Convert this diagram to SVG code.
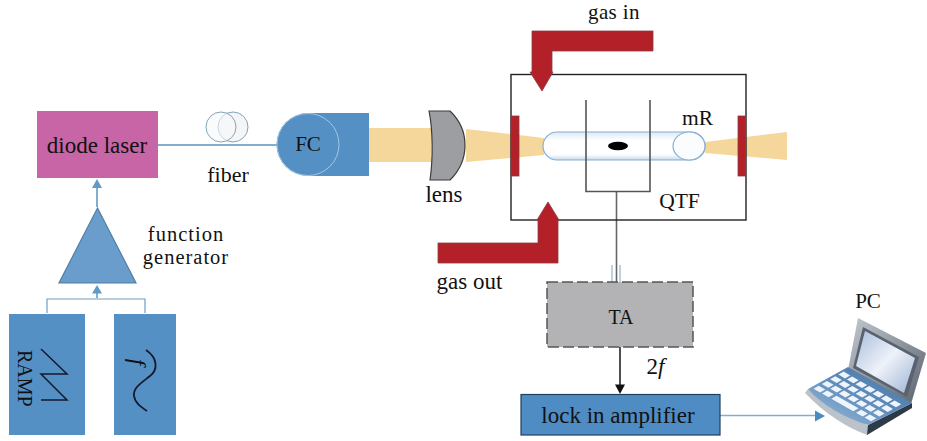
<svg xmlns="http://www.w3.org/2000/svg" width="927" height="441" viewBox="0 0 927 441">
<style>
text{font-family:"Liberation Serif","DejaVu Serif",serif;fill:#111;font-size:23px;text-anchor:middle}
.cap{font-size:21px}
.fg{font-size:20.500px;letter-spacing:1px}
.blue{fill:#5590c5}
.red{fill:#b32028;stroke:#8d3a42;stroke-width:.8}
.beam{fill:#f5d79b}
.conn{fill:none;stroke:#82afd0;stroke-width:2}
.thin{fill:none;stroke:#6e9dc0;stroke-width:1.2}
.blk{fill:none;stroke:#222;stroke-width:1.4}
.gry{fill:none;stroke:#555;stroke-width:1.6}
.key{fill:#eef4fb}
</style>
<defs>
<linearGradient id="scr" x1="0" y1="0" x2="1" y2="1"><stop offset="0" stop-color="#a9bedc"/><stop offset=".5" stop-color="#eef2f9"/><stop offset="1" stop-color="#9db3d4"/></linearGradient>
<linearGradient id="tube" x1="0" y1="0" x2="0" y2="1"><stop offset="0" stop-color="#dce9f5"/><stop offset=".3" stop-color="#fff"/><stop offset=".8" stop-color="#fff"/><stop offset="1" stop-color="#c4daee"/></linearGradient>
<linearGradient id="deck" x1="0" y1="1" x2="1" y2="0"><stop offset="0" stop-color="#a3c2e0"/><stop offset=".5" stop-color="#5f8cba"/><stop offset="1" stop-color="#46709e"/></linearGradient>
<linearGradient id="lid" x1="0" y1="0" x2="1" y2="1"><stop offset="0" stop-color="#c3c8ce"/><stop offset="1" stop-color="#59626e"/></linearGradient>
<path id="k" d="M.7 3.400L5.900 .4L-.7 -3.400L-5.900 -.4z"/>
</defs>
<g id="connectors">
<path class="conn" d="M158 145H277"/>
<path class="conn" d="M97 207V186"/>
<path d="M97 179l-5 9h10z" fill="#5f9ac8"/>
<path class="thin" d="M47 313V299H145V313"/>
<path class="conn" d="M97 298V290"/>
<path d="M97 285l-5 8.500h10z" fill="#5f9ac8"/>
<path d="M612 265V282M620 265V282" fill="none" stroke="#8fb4cf" stroke-width="1.200"/>
<path d="M616.500 191V282" fill="none" stroke="#666" stroke-width="1.600"/>
<path d="M620 347V386" fill="none" stroke="#222" stroke-width="1.600"/>
<path d="M620 394l-5-9.500h10z" fill="#111"/>
<path d="M720 415.500H816" fill="none" stroke="#82afd0" stroke-width="1.600"/>
</g>
<g id="diode-laser"><rect x="37" y="111" width="121" height="67" fill="#c765a6"/><text x="97" y="153">diode laser</text></g>
<g id="function-generator"><path d="M97.500 208L136 283H59z" fill="#6a9dcb" stroke="#4f7fa8" stroke-width="1.200"/><text class="fg" x="186" y="240.500">function</text><text class="fg" x="186" y="263.500">generator</text></g>
<g id="ramp"><rect x="9" y="314" width="76" height="121" class="blue"/><path d="M41 349L67 374H41L67 400H41" fill="none" stroke="#14192e" stroke-width="1.500"/><text transform="translate(18 350) rotate(90)" style="text-anchor:start;font-size:20px">RAMP</text></g>
<g id="f-source"><rect x="114" y="314" width="62" height="121" class="blue"/><path d="M146 350C158 358 158 370 150 376C140 384 133 388 134 396C135 403 141 407 147 411" fill="none" stroke="#14192e" stroke-width="1.800"/><text transform="translate(130 362) rotate(90)" font-style="italic">f</text></g>
<g id="fiber"><circle cx="233" cy="127" r="15" fill="#f3f6f8" stroke="#85a3b5"/><circle cx="221" cy="127" r="15" fill="#f6f8fa" fill-opacity=".6" stroke="#85a3b5"/><text x="228" y="182" style="font-size:22px">fiber</text></g>
<g id="fc"><path d="M308 113H369V176H308A31.500 31.500 0 0 1 308 113z" class="blue"/><circle cx="308" cy="144.500" r="31" fill="none" stroke="#a5c6e2"/><text class="cap" x="308" y="151">FC</text></g>
<g id="beam"><path class="beam" d="M369 128H431V162H369z"/><path class="beam" d="M466 129L544 138V155L466 162z"/><path class="beam" d="M705 142L787 132V160L705 153z"/></g>
<g id="lens"><path d="M429 111H450C470 130 470 160 450 180H430C433 160 433 130 429 111z" fill="#9d9ea1" stroke="#3b3b3d" stroke-width="1.200"/><text x="444" y="202">lens</text></g>
<g id="cell"><rect x="511" y="74.500" width="235" height="145.500" class="blk"/></g>
<g id="windows"><rect x="511" y="116" width="8" height="60" class="red"/><rect x="738" y="116" width="7.500" height="60" class="red"/></g>
<g id="tube"><rect x="543" y="132" width="162" height="28" rx="14" fill="url(#tube)" stroke="#86aed2" stroke-width="1.200"/><ellipse cx="689" cy="146" rx="16" ry="14" fill="#fbfcfe" stroke="#86aed2" stroke-width="1.200"/><text x="697.500" y="125" style="font-size:21.500px">mR</text></g>
<g id="qtf"><path class="gry" d="M586 100V191.500H650V100"/><ellipse cx="618" cy="146" rx="10" ry="4.200" fill="#000"/><text x="679.500" y="208" style="font-size:21.500px">QTF</text></g>
<g id="gas-in"><path class="red" d="M532 31H653V51H552V72H553L542 91L530 72H532z"/><text x="614" y="18.800" style="font-size:21px;letter-spacing:.4px">gas in</text></g>
<g id="gas-out"><path class="red" d="M438 243H538V220H537L548 202L559 220H558V263H438z"/><text x="469.500" y="289">gas out</text></g>
<g id="ta"><rect x="547" y="282" width="146" height="65" fill="#b3b3b5" stroke="#555" stroke-width="1.500" stroke-dasharray="11 4"/><text x="621" y="324" style="font-size:20px">TA</text></g>
<text x="655.500" y="374" font-style="italic"><tspan font-style="normal">2</tspan>f</text>
<g id="lock-in"><rect x="521" y="394.500" width="199" height="40.500" fill="#4f8cc4" stroke="#1f3f60" stroke-width="1.200"/><text x="618" y="423">lock in amplifier</text></g>
<g id="pc"><text class="cap" x="868" y="308">PC</text>
<path d="M848 370L858 318L926 353L911 404z" fill="url(#lid)"/>
<path d="M853 368L863 327L919 357L907 397z" fill="#59626e"/>
<path d="M856 366L865 331L915 358L904 393z" fill="url(#scr)"/>
<path d="M805 393C825 414 848 428 867 435L870 427L808 389z" fill="#bcc2ca"/>
<path d="M867 435L912 408L912 403L868 425z" fill="#2e3a48"/>
<path d="M808 389L848 367L912 403L868 425C845 418 823 406 808 389z" fill="url(#deck)"/>
<g class="key"><use href="#k" x="844.300" y="375"/><use href="#k" x="852.800" y="379.800"/><use href="#k" x="861.300" y="384.600"/><use href="#k" x="869.800" y="389.400"/><use href="#k" x="878.300" y="394.200"/><use href="#k" x="886.800" y="399"/><use href="#k" x="895.300" y="403.800"/><use href="#k" x="836" y="379.700"/><use href="#k" x="844.500" y="384.500"/><use href="#k" x="853" y="389.300"/><use href="#k" x="861.500" y="394.100"/><use href="#k" x="870" y="398.900"/><use href="#k" x="878.500" y="403.700"/><use href="#k" x="887" y="408.500"/><use href="#k" x="827.700" y="384.400"/><use href="#k" x="836.200" y="389.200"/><use href="#k" x="844.700" y="394"/><use href="#k" x="853.200" y="398.800"/><use href="#k" x="861.700" y="403.600"/><use href="#k" x="870.200" y="408.400"/><use href="#k" x="878.700" y="413.200"/><use href="#k" x="819.400" y="389.100"/><use href="#k" x="827.900" y="393.900"/><path d="M853.300 411.200L858.500 408.200L836.500 395.800L831.300 398.800z"/><use href="#k" x="861.900" y="413.100"/><use href="#k" x="870.400" y="417.900"/></g>
<path d="M825 416l-10-5.500v11z" fill="#4a8cc0"/>
</g>
</svg>
